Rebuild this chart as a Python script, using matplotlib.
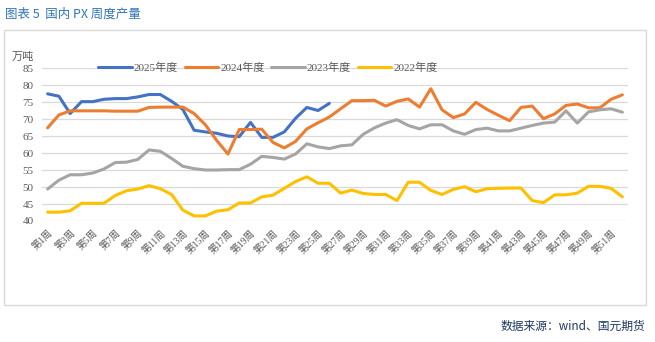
import numpy as np
import matplotlib
matplotlib.use('Agg')
import matplotlib.pyplot as plt
from matplotlib.patches import Rectangle

plt.rcParams['font.family'] = ['Liberation Serif', 'Noto Sans CJK SC', 'DejaVu Sans']

# weekly PX output, 10k tonnes
weeks = ['第%d周' % i for i in range(1, 53)]

y2025 = [77.4, 76.7, 71.6, 75.1, 75.1, 75.8, 76.0, 76.0, 76.5, 77.2,
         77.2, 75.2, 72.8, 66.7, 66.2, 65.8, 65.0, 64.8, 69.0, 64.6,
         64.6, 66.2, 70.2, 73.4, 72.5, 74.6]

y2024 = [67.4, 71.2, 72.4, 72.4, 72.4, 72.4, 72.3, 72.3, 72.3, 73.4,
         73.5, 73.5, 73.5, 71.6, 68.3, 63.7, 59.7, 66.9, 66.9, 67.0,
         63.1, 61.5, 63.4, 67.1, 68.9, 70.6, 73.0, 75.4, 75.4, 75.5,
         73.8, 75.2, 75.9, 73.5, 78.9, 72.7, 70.4, 71.5, 74.9, 72.8,
         71.1, 69.5, 73.4, 73.8, 70.1, 71.5, 74.0, 74.4, 73.3, 73.3,
         75.8, 77.1]

y2023 = [49.4, 52.0, 53.6, 53.6, 54.1, 55.3, 57.2, 57.3, 58.1, 60.9,
         60.5, 58.4, 56.1, 55.4, 55.0, 55.0, 55.1, 55.1, 56.7, 59.0,
         58.7, 58.2, 59.7, 62.7, 61.8, 61.3, 62.1, 62.4, 65.5, 67.4,
         68.8, 69.8, 68.1, 67.1, 68.3, 68.3, 66.5, 65.5, 66.9, 67.3,
         66.5, 66.5, 67.3, 68.1, 68.8, 69.1, 72.4, 68.8, 72.1, 72.7,
         73.0, 72.0]

y2022 = [42.6, 42.6, 43.0, 45.2, 45.2, 45.2, 47.5, 48.9, 49.4, 50.4,
         49.5, 47.8, 43.2, 41.5, 41.5, 42.9, 43.3, 45.3, 45.3, 47.1,
         47.6, 49.6, 51.6, 53.0, 51.1, 51.1, 48.2, 49.1, 48.1, 47.8,
         47.8, 46.0, 51.4, 51.4, 49.0, 47.8, 49.3, 50.1, 48.6, 49.5,
         49.6, 49.7, 49.7, 46.0, 45.4, 47.7, 47.7, 48.2, 50.2, 50.2,
         49.6, 47.1]

series = [
    ('2025年度', y2025, '#4472C4'),
    ('2024年度', y2024, '#ED7D31'),
    ('2023年度', y2023, '#A5A5A5'),
    ('2022年度', y2022, '#FFC000'),
]

fig = plt.figure(figsize=(6.55, 3.42), dpi=100)

# outer frame of the chart
fig.patches.append(Rectangle((4 / 655, 1 - 305 / 342), 642 / 655, 275 / 342,
                             transform=fig.transFigure, fill=False,
                             edgecolor='#D9D9D9', linewidth=1.0))

ax = fig.add_axes([42 / 655, 1 - 221 / 342, 586 / 655, 153 / 342])

x = np.arange(len(weeks))
for name, vals, col in series:
    ax.plot(x[:len(vals)], vals, color=col, linewidth=2.2, label=name,
            solid_capstyle='round', solid_joinstyle='round')

ax.set_xlim(-0.5, len(weeks) - 0.5)
ax.set_ylim(40, 85)
ax.set_yticks(range(40, 86, 5))
ax.grid(axis='y', color='#D9D9D9', linewidth=0.9)
ax.set_axisbelow(True)
for s in ax.spines.values():
    s.set_visible(False)
ax.tick_params(axis='both', length=0, colors='#595959', labelsize=8)
ax.tick_params(axis='y', pad=6)

ax.set_xticks(x[::2])
ax.set_xticklabels(weeks[::2], rotation=45, ha='right', va='top',
                   rotation_mode='anchor', fontsize=7)
ax.tick_params(axis='x', pad=5)

leg = fig.legend(loc='center', bbox_to_anchor=(268 / 655, 1 - 68 / 342),
                 ncol=4, frameon=False, fontsize=8, handlelength=3.0,
                 handletextpad=0.2, columnspacing=0.6)
for t in leg.get_texts():
    t.set_color('#595959')

fig.text(12 / 655, 1 - 57 / 342, '万吨', fontsize=8, color='#595959',
         ha='left', va='center')

fig.text(5 / 655, 1 - 14 / 342, '图表 5  国内 PX 周度产量', fontsize=9,
         color='#2E75B6', ha='left', va='center',
         family=['Noto Sans CJK SC', 'DejaVu Sans'])

fig.text(645 / 655, 1 - 326 / 342, '数据来源：wind、国元期货', fontsize=8.5,
         color='#1F3864', ha='right', va='center',
         family=['Noto Sans CJK SC', 'DejaVu Sans'])

fig.savefig('out.png', dpi=100)
